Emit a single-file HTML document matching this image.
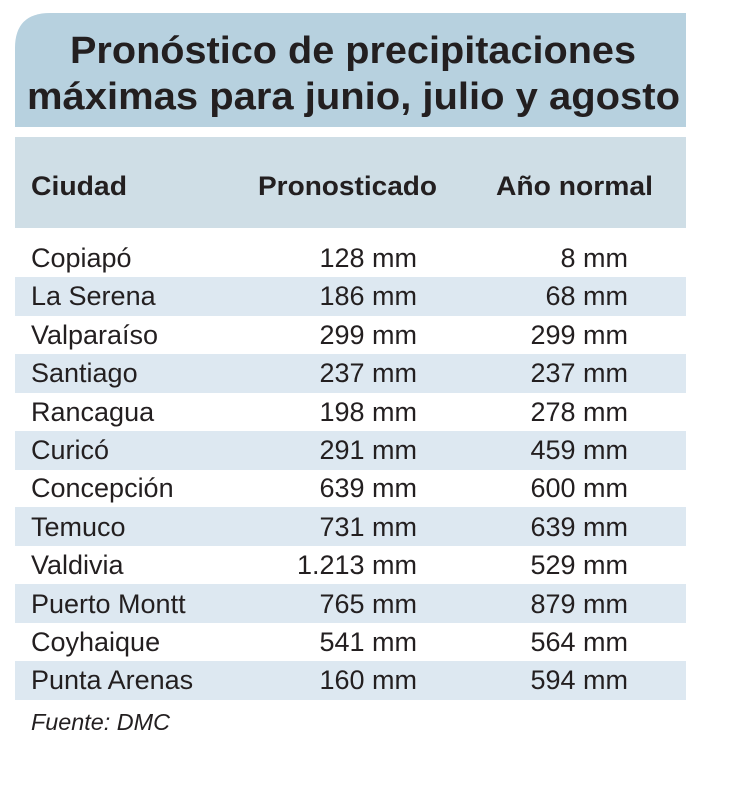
<!DOCTYPE html>
<html><head><meta charset="utf-8"><style>
html,body{margin:0;padding:0;background:#fff;width:730px;height:793px;overflow:hidden}
svg{display:block}
text{font-family:"Liberation Sans",sans-serif;fill:#231f20}
</style></head><body>
<svg width="730" height="793" viewBox="0 0 730 793">
<path d="M15,127 L15,48 Q15,13 50,13 L686,13 L686,127 Z" fill="#b7d1df"/>
<rect x="15" y="137" width="671" height="91" fill="#cfdee6"/>
<g fill="#dde8f1">
<rect x="15" y="277" width="671" height="39"/>
<rect x="15" y="354" width="671" height="39"/>
<rect x="15" y="431" width="671" height="39"/>
<rect x="15" y="507" width="671" height="39"/>
<rect x="15" y="584" width="671" height="39"/>
<rect x="15" y="661" width="671" height="39"/>
</g>
<text x="70" y="63" font-size="38" font-weight="bold" textLength="566" lengthAdjust="spacingAndGlyphs">Pronóstico de precipitaciones</text>
<text x="27" y="109" font-size="38" font-weight="bold" textLength="653" lengthAdjust="spacingAndGlyphs">máximas para junio, julio y agosto</text>
<text x="31" y="195" font-size="27" font-weight="bold" textLength="96" lengthAdjust="spacingAndGlyphs">Ciudad</text>
<text x="258" y="195" font-size="27" font-weight="bold" textLength="179" lengthAdjust="spacingAndGlyphs">Pronosticado</text>
<text x="496" y="195" font-size="27" font-weight="bold" textLength="157" lengthAdjust="spacingAndGlyphs">Año normal</text>
<g font-size="27">
<text x="31" y="267">Copiapó</text><text x="417" y="267" text-anchor="end">128 mm</text><text x="628" y="267" text-anchor="end">8 mm</text>
<text x="31" y="305">La Serena</text><text x="417" y="305" text-anchor="end">186 mm</text><text x="628" y="305" text-anchor="end">68 mm</text>
<text x="31" y="344">Valparaíso</text><text x="417" y="344" text-anchor="end">299 mm</text><text x="628" y="344" text-anchor="end">299 mm</text>
<text x="31" y="382">Santiago</text><text x="417" y="382" text-anchor="end">237 mm</text><text x="628" y="382" text-anchor="end">237 mm</text>
<text x="31" y="421">Rancagua</text><text x="417" y="421" text-anchor="end">198 mm</text><text x="628" y="421" text-anchor="end">278 mm</text>
<text x="31" y="459">Curicó</text><text x="417" y="459" text-anchor="end">291 mm</text><text x="628" y="459" text-anchor="end">459 mm</text>
<text x="31" y="497">Concepción</text><text x="417" y="497" text-anchor="end">639 mm</text><text x="628" y="497" text-anchor="end">600 mm</text>
<text x="31" y="536">Temuco</text><text x="417" y="536" text-anchor="end">731 mm</text><text x="628" y="536" text-anchor="end">639 mm</text>
<text x="31" y="574">Valdivia</text><text x="417" y="574" text-anchor="end">1.213 mm</text><text x="628" y="574" text-anchor="end">529 mm</text>
<text x="31" y="613">Puerto Montt</text><text x="417" y="613" text-anchor="end">765 mm</text><text x="628" y="613" text-anchor="end">879 mm</text>
<text x="31" y="651">Coyhaique</text><text x="417" y="651" text-anchor="end">541 mm</text><text x="628" y="651" text-anchor="end">564 mm</text>
<text x="31" y="689">Punta Arenas</text><text x="417" y="689" text-anchor="end">160 mm</text><text x="628" y="689" text-anchor="end">594 mm</text>
</g>
<text x="31" y="730" font-size="23" font-style="italic" textLength="139" lengthAdjust="spacingAndGlyphs">Fuente: DMC</text>
</svg>
</body></html>
